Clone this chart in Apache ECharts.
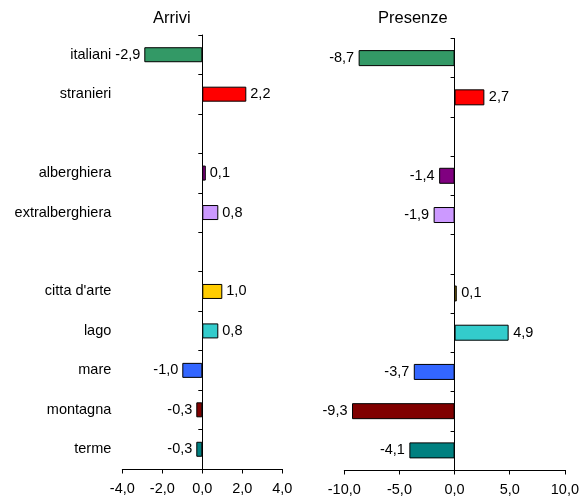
<!DOCTYPE html>
<html>
<head>
<meta charset="utf-8">
<script src="https://cdn.jsdelivr.net/npm/echarts@6/dist/echarts.min.js"></script>
<style>html,body{margin:0;padding:0;background:#fff}#c{width:582px;height:500px}</style>
</head>
<body>
<div id="c"></div>
<script>
const categories = ['italiani', 'stranieri', ' ', 'alberghiera', 'extralberghiera', '  ', "citta d'arte", 'lago', 'mare', 'montagna', 'terme'];
const arrivi = [-2.9, 2.2, null, 0.1, 0.8, null, 1.0, 0.8, -1.0, -0.3, -0.3];
const presenze = [-8.7, 2.7, null, -1.4, -1.9, null, 0.1, 4.9, -3.7, -9.3, -4.1];
const barColors = ['#339966', '#FF0000', null, '#800080', '#CC99FF', null, '#FFCC00', '#33CCCC', '#3366FF', '#800000', '#008080'];
const arriviAxis = { min: -4, max: 4, interval: 2 };
const presenzeAxis = { min: -10, max: 10, interval: 5 };
const titles = ['Arrivi', 'Presenze'];

const FONT = "'Liberation Sans', Arial, sans-serif";
const fmt = v => v.toFixed(1).replace('.', ',');

function buildData(vals) {
  return vals.map((v, i) => v === null ? null : {
    value: v,
    itemStyle: { color: barColors[i] },
    label: { position: v < 0 ? 'left' : 'right' }
  });
}

function valueAxis(idx, ax) {
  return {
    type: 'value', gridIndex: idx, min: ax.min, max: ax.max, interval: ax.interval,
    splitLine: { show: false },
    axisLine: { show: true, onZero: false, lineStyle: { color: '#000', width: 1 } },
    axisTick: { show: true, inside: false, length: 4.5, lineStyle: { color: '#000' } },
    axisLabel: { formatter: fmt, color: '#000', fontSize: 14.5, fontFamily: FONT, margin: 12 }
  };
}

const chart = echarts.init(document.getElementById('c'));
chart.setOption({
  animation: false,
  graphic: [
    { type: 'text', left: 153, top: 10, style: { text: titles[0], fontSize: 16.5, fontFamily: FONT, fill: '#000' } },
    { type: 'text', left: 378, top: 10, style: { text: titles[1], fontSize: 16.5, fontFamily: FONT, fill: '#000' } }
  ],
  grid: [
    { left: 122.3, width: 160, top: 35, height: 434 },
    { left: 344.3, width: 222.4, top: 38.5, height: 431.5 }
  ],
  xAxis: [valueAxis(0, arriviAxis), valueAxis(1, presenzeAxis)],
  yAxis: [
    {
      type: 'category', gridIndex: 0, data: categories, inverse: true, position: 'left',
      axisLine: { show: true, onZero: true, lineStyle: { color: '#000', width: 1 } },
      axisTick: { show: true, inside: false, length: 4, lineStyle: { color: '#000' } },
      axisLabel: { show: false }
    },
    {
      type: 'category', gridIndex: 0, data: categories, inverse: true, position: 'left',
      axisLine: { show: false, onZero: false },
      axisTick: { show: false },
      axisLabel: { show: true, color: '#000', fontSize: 14.5, fontFamily: FONT, margin: 11 }
    },
    {
      type: 'category', gridIndex: 1, data: categories, inverse: true, position: 'left',
      axisLine: { show: true, onZero: true, lineStyle: { color: '#000', width: 1 } },
      axisTick: { show: true, inside: false, length: 4, lineStyle: { color: '#000' } },
      axisLabel: { show: false }
    }
  ],
  series: [
    {
      type: 'bar', xAxisIndex: 0, yAxisIndex: 0, barWidth: 15, barMinHeight: 3.5,
      data: buildData(arrivi),
      itemStyle: { borderColor: '#000', borderWidth: 1 },
      label: { show: true, formatter: p => fmt(p.value), color: '#000', fontSize: 14.5, fontFamily: FONT, distance: 4 }
    },
    {
      type: 'bar', xAxisIndex: 1, yAxisIndex: 2, barWidth: 16, barMinHeight: 2.2,
      data: buildData(presenze),
      itemStyle: { borderColor: '#000', borderWidth: 1 },
      label: { show: true, formatter: p => fmt(p.value), color: '#000', fontSize: 14.5, fontFamily: FONT, distance: 4.5 }
    }
  ]
});
</script>
</body>
</html>
